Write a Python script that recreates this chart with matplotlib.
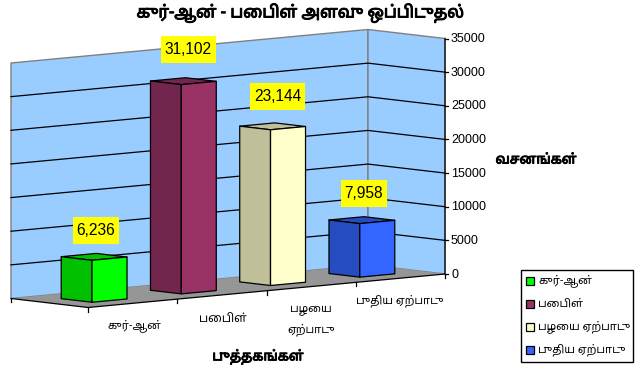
import numpy as np
import matplotlib
matplotlib.use("Agg")
import matplotlib.pyplot as plt
from matplotlib.patches import Polygon, Rectangle
import matplotlib.patheffects as pe
from matplotlib import font_manager as fm

# ---- data ----
categories = ["குர்-ஆன்", "பைபிள்", "பழைய ஏற்பாடு", "புதிய ஏற்பாடு"]
axis_labels = ["குர்-ஆன்", "பைபிள்", "பழைய\nஏற்பாடு", "புதிய ஏற்பாடு"]
verses = [6236, 31102, 23144, 7958]
value_labels = ["6,236", "31,102", "23,144", "7,958"]
y_ticks = [0, 5000, 10000, 15000, 20000, 25000, 30000, 35000]
title = "குர்-ஆன் - பைபிள் அளவு ஒப்பிடுதல்"
x_title = "புத்தகங்கள்"
y_title = "வசனங்கள்"

# ---- style ----
front_cols = ["#00FF00", "#993366", "#FFFFCC", "#3366FF"]
side_cols = ["#00C000", "#73264D", "#BFBF99", "#264DBF"]
top_cols = ["#00C000", "#73264D", "#BFBF99", "#264DBF"]
WALL, FLOOR, EDGE = "#99CCFF", "#969696", "#808080"

have = {f.name for f in fm.fontManager.ttflist}
tamil_pref = ["Noto Sans Tamil", "Noto Serif Tamil", "Hind Madurai", "Mukta Malar", "Catamaran", "Arima"]
tamil = [f for f in tamil_pref if f in have][:1]
NUM_FAMILY = ["Liberation Sans", "DejaVu Sans"]
TAMIL_FAMILY = tamil + NUM_FAMILY
plt.rcParams["font.family"] = NUM_FAMILY

# Oblique-projection scale: category axis, depth axis and value axis (screen px)
ORIGIN = np.array([88.0, 307.5])
U = np.array([357.0, -33.5]) / 4        # one category
V = np.array([-77.0, -9.0])             # full depth
Z = np.array([0.0, -235.5]) / 35000     # one value unit


def project(cat, depth, value):
    return ORIGIN + cat * U + depth * V + value * Z


fig = plt.figure(figsize=(6.37, 3.65), dpi=100)
ax = fig.add_axes([0, 0, 1, 1])
ax.set_xlim(0, 637)
ax.set_ylim(365, 0)
ax.axis("off")
n = len(verses)
zmax = y_ticks[-1]

# walls
ax.add_patch(Polygon([project(0, 1, 0), project(n, 1, 0), project(n, 1, zmax), project(0, 1, zmax)],
                     fc=WALL, ec=EDGE, lw=1, zorder=1))
ax.add_patch(Polygon([project(n, 1, 0), project(n, 0, 0), project(n, 0, zmax), project(n, 1, zmax)],
                     fc=WALL, ec=EDGE, lw=1, zorder=1))
# gridlines
for t in y_ticks[1:-1]:
    pts = np.array([project(0, 1, t), project(n, 1, t), project(n, 0, t)])
    ax.plot(pts[:, 0], pts[:, 1], color="black", lw=0.9, zorder=2)
# floor
ax.add_patch(Polygon([project(0, 0, 0), project(n, 0, 0), project(n, 1, 0), project(0, 1, 0)],
                     fc=FLOOR, ec="none", zorder=3))
# axes
p = np.array([project(0, 1, 0), project(0, 0, 0), project(n, 0, 0), project(n, 0, zmax)])
ax.plot(p[:, 0], p[:, 1], color="black", lw=0.9, zorder=4)
for t in y_ticks:
    q = project(n, 0, t)
    ax.plot([q[0], q[0] + 3], [q[1], q[1]], color="black", lw=0.9, zorder=4)
    ax.text(q[0] + 6, q[1] + 0.5, str(t), fontsize=9, va="center", ha="left", color="black")
for i in range(n + 1):
    q = project(i, 0, 0)
    ax.plot([q[0], q[0]], [q[1], q[1] + 4], color="black", lw=0.9, zorder=4)
q = project(0, 1, 0)
ax.plot([q[0], q[0]], [q[1], q[1] + 3], color="black", lw=0.9, zorder=4)

# bars
W, D = 0.392, 0.40
label_offsets = [(4, -29.5), (7, -35), (7, -33), (4, -30)]
label_boxes = [(46, 27), (55, 27), (55, 27), (46, 27)]
for i, v in enumerate(verses):
    c0, c1 = i + 0.5 - W / 2, i + 0.5 + W / 2
    d0, d1 = 0.5 - D / 2, 0.5 + D / 2
    side = [project(c0, d1, 0), project(c0, d0, 0), project(c0, d0, v), project(c0, d1, v)]
    front = [project(c0, d0, 0), project(c1, d0, 0), project(c1, d0, v), project(c0, d0, v)]
    top = [project(c0, d0, v), project(c1, d0, v), project(c1, d1, v), project(c0, d1, v)]
    for poly, col in ((top, top_cols[i]), (side, side_cols[i]), (front, front_cols[i])):
        ax.add_patch(Polygon(poly, fc=col, ec="black", lw=0.9, joinstyle="round", zorder=5 + i))
    tip = project(c0, d0, v)
    dx, dy = label_offsets[i]
    bw, bh = label_boxes[i]
    ax.add_patch(Rectangle((tip[0] + dx - bw / 2, tip[1] + dy - bh / 2), bw, bh,
                           fc="#FFFF00", ec="none", zorder=10))
    ax.text(tip[0] + dx, tip[1] + dy, value_labels[i], fontsize=11.2, ha="center", va="center",
            color="black", zorder=11)

bold = [pe.withStroke(linewidth=0.7, foreground="black")]
# category labels
cat_pos = [(134, 326), (223, 318), (311, 320), (400, 301)]
sizes = [8, 8.5, 8, 8]
for lab, (x, y), s in zip(axis_labels, cat_pos, sizes):
    ax.text(x, y, lab, fontsize=s, family=TAMIL_FAMILY, ha="center", va="center", linespacing=1.95)

ax.text(300, 13, title, fontsize=11.9, family=TAMIL_FAMILY, ha="center", va="center", path_effects=bold)
ax.text(536, 160, y_title, fontsize=9.8, family=TAMIL_FAMILY, ha="center", va="center", path_effects=bold)
ax.text(258, 357, x_title, fontsize=9.8, family=TAMIL_FAMILY, ha="center", va="center", path_effects=bold)

# legend
ax.add_patch(Rectangle((520.5, 269.5), 112, 92, fc="white", ec="black", lw=1, zorder=12))
for i, (lab, col) in enumerate(zip(categories, front_cols)):
    y = 281 + i * 23
    ax.add_patch(Rectangle((525.5, y - 4), 8, 8, fc=col, ec="black", lw=0.9, zorder=13))
    ax.text(538, y, lab, fontsize=8, family=TAMIL_FAMILY, ha="left", va="center", zorder=13)

fig.savefig("out.png", dpi=100)
